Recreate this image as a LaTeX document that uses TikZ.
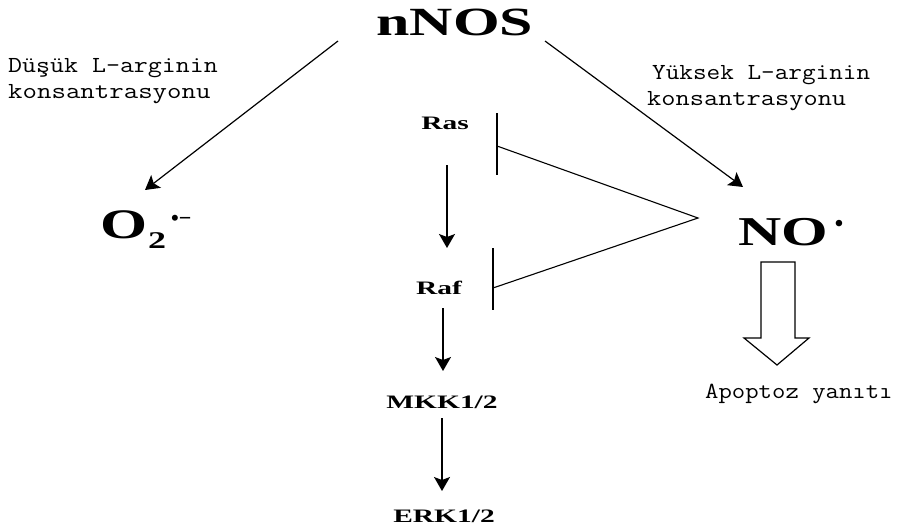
\documentclass[tikz,border=0pt]{standalone}
\usepackage{fontspec}
\setmainfont{Liberation Serif}
\usepackage{graphicx}
\usetikzlibrary{arrows.meta}
\newcommand\sxb[2]{\scalebox{#1}[1]{#2}}
\begin{document}
\begin{tikzpicture}[x=1pt,y=-1pt,
  big/.style={font=\fontsize{40}{40}\selectfont\bfseries, inner sep=0pt},
  prot/.style={font=\fontsize{19}{19}\selectfont\bfseries, inner sep=0pt, anchor=base},
  lbl/.style={font=\fontsize{23}{26}\selectfont\ttfamily, inner sep=0pt, anchor=base west},
  arr/.style={line width=1.2pt, -{Stealth[length=14pt,width=16pt,inset=3pt]}},
  inh/.style={line width=1.1pt},
  bar/.style={line width=2.4pt},
  hollow/.style={line width=1.2pt, draw=black, fill=white}]
\useasboundingbox (0,0) rectangle (897,527);

% main labels
\node[big, anchor=base] (nnos) at (455,36) {\sxb{1.5}{nNOS}};
\node[big, font=\fontsize{42}{42}\selectfont\bfseries, anchor=base west] (o2) at (100,238) {\sxb{1.44}{O}};
\node[inner sep=0pt, font=\fontsize{24}{24}\selectfont\bfseries, anchor=base west] (o2sub) at (148,248) {\sxb{1.5}{2}};
\node[inner sep=0pt, font=\fontsize{22}{22}\selectfont\bfseries, anchor=base west] (o2sup) at (171,225) {•−};
\node[big, font=\fontsize{41}{41}\selectfont\bfseries, anchor=base west] (no) at (738,245) {\sxb{1.46}{NO}};
\node[inner sep=0pt, font=\fontsize{24}{24}\selectfont\bfseries] (nodot) at (839,226) {•};

% side labels
\node[lbl] (lowA) at (8,73) {\sxb{1.18}{Düşük L-arginin}};
\node[lbl] (lowB) at (8,99) {\sxb{1.22}{konsantrasyonu}};
\node[lbl] (highA) at (652,80) {\sxb{1.15}{Yüksek L-arginin}};
\node[lbl] (highB) at (647,106) {\sxb{1.20}{konsantrasyonu}};
\node[lbl] (apo) at (705,398) {\sxb{1.13}{Apoptoz yanıtı}};

% cascade
\node[prot] (ras) at (445,129) {\sxb{1.55}{Ras}};
\node[prot] (raf) at (439,294) {\sxb{1.55}{Raf}};
\node[prot] (mkk) at (442,408) {\sxb{1.55}{MKK1/2}};
\node[prot] (erk) at (444,522) {\sxb{1.55}{ERK1/2}};

% connector end points
\coordinate (nosL) at (338,41);
\coordinate (nosR) at (545,41);
\coordinate (o2tip) at (145,190);
\coordinate (notip) at (743,187);
\coordinate (rasOut) at (447,165);
\coordinate (rafIn) at (447,248);
\coordinate (rafOut) at (443,308);
\coordinate (mkkIn) at (443,371);
\coordinate (mkkOut) at (442,418);
\coordinate (erkIn) at (442,491);
\coordinate (apex) at (698,218);
\coordinate (rasBarT) at (497,113);
\coordinate (rasBarB) at (497,175);
\coordinate (rasBarM) at (497,146);
\coordinate (rafBarT) at (493,248);
\coordinate (rafBarB) at (493,310);
\coordinate (rafBarM) at (493,288);

\draw[arr] (nosL) -- (o2tip);
\draw[arr] (nosR) -- (notip);
\draw[arr] (rasOut) -- (rafIn);
\draw[arr] (rafOut) -- (mkkIn);
\draw[arr] (mkkOut) -- (erkIn);

% inhibition from NO
\draw[inh] (rasBarM) -- (apex) -- (rafBarM);
\draw[bar] (rasBarT) -- (rasBarB);
\draw[bar] (rafBarT) -- (rafBarB);

% hollow arrow to apoptosis
\draw[hollow] (761,262) -- (795,262) -- (795,338) -- (809,338) -- (777,365) -- (744,338) -- (761,338) -- cycle;
\end{tikzpicture}
\end{document}
